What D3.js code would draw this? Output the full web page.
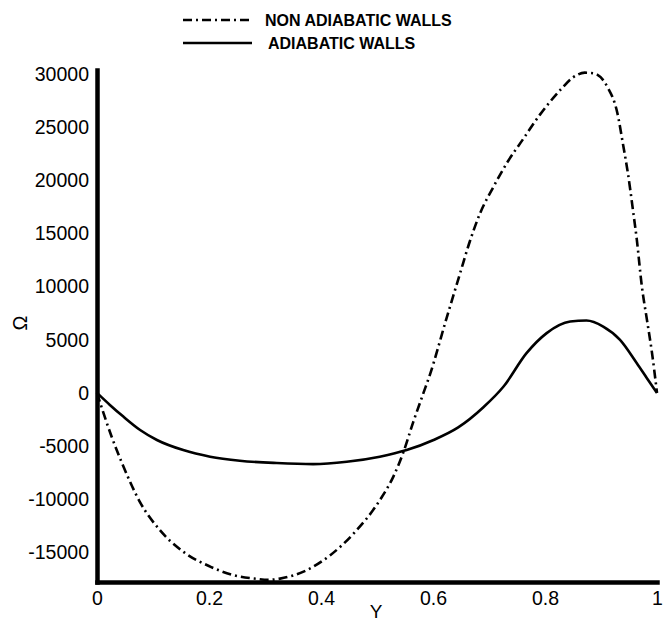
<!DOCTYPE html>
<html>
<head>
<meta charset="utf-8">
<script src="https://cdn.jsdelivr.net/npm/d3@7"></script>
<style>
  body { margin: 0; background: #fff; }
  svg text { font-family: Arial, "Liberation Sans", sans-serif; fill: #000; }
</style>
</head>
<body>
<div id="chart"></div>
<script>
// series
var nonAdY = [0, 0.026, 0.047, 0.077, 0.112, 0.154, 0.202, 0.243, 0.285, 0.305, 0.327, 0.374, 0.416, 0.458,
	0.505, 0.529, 0.547, 0.565, 0.583, 0.595, 0.624, 0.648, 0.666, 0.684, 0.708, 0.732, 0.761, 0.791,
	0.827, 0.85, 0.871, 0.886, 0.911, 0.929, 0.94, 0.948, 0.957, 0.964, 0.973, 0.982, 0.991, 1.0];
var nonAdOmega = [0, -4100, -6900, -10300, -12900, -14950, -16350, -17150, -17500, -17600, -17480, -16700, -15300, -13250,
	-10100, -7900, -5600, -2700, 0, 1800, 7000, 11200, 14300, 16900, 19400, 21650, 23900, 26200,
	28500, 29700, 30150, 30100, 28850, 26400, 23200, 20700, 17250, 14400, 10000, 6900, 3800, 0];

var adY = [0, 0.023, 0.047, 0.077, 0.107, 0.154, 0.202, 0.255, 0.321, 0.386, 0.446, 0.505, 0.553,
	0.601, 0.645, 0.69, 0.726, 0.767, 0.803, 0.845, 0.874, 0.904, 0.934, 0.964, 0.982, 1.0];
var adOmega = [0, -1130, -2230, -3490, -4430, -5380, -6000, -6380, -6600, -6700, -6480, -6000, -5380,
	-4430, -3250, -1350, 600, 3740, 5630, 6720, 6820, 6250, 5000, 2800, 1390, 0];

var xTicks = [0, 0.2, 0.4, 0.6, 0.8, 1];
var xTickLabels = ["0", "0.2", "0.4", "0.6", "0.8", "1"];
var yTicks = [-15000, -10000, -5000, 0, 5000, 10000, 15000, 20000, 25000, 30000];
var legendLabels = ["NON ADIABATIC WALLS", "ADIABATIC WALLS"];

var width = 666, height = 623;
var plotLeft = 97, plotRight = 657, plotTop = 70, plotBottom = 582;
var dashDot = "9,4,2,4";

var svg = d3.select("#chart").append("svg")
	.attr("width", width)
	.attr("height", height);

var x = d3.scaleLinear().domain([0, 1]).range([plotLeft, plotRight]);
var y = d3.scaleLinear().domain([-17800, 30400]).range([plotBottom, plotTop]);

var line = d3.line()
	.x(function(d){ return x(d[0]); })
	.y(function(d){ return y(d[1]); })
	.curve(d3.curveMonotoneX);

var nonAd = nonAdY.map(function(v, i){ return [v, nonAdOmega[i]]; });
var ad = adY.map(function(v, i){ return [v, adOmega[i]]; });

// curves
svg.append("path")
	.attr("d", line(nonAd))
	.attr("fill", "none")
	.attr("stroke", "#000")
	.attr("stroke-width", 2.6)
	.attr("stroke-dasharray", dashDot);

svg.append("path")
	.attr("d", line(ad))
	.attr("fill", "none")
	.attr("stroke", "#000")
	.attr("stroke-width", 2.6);

// axes
var xAxis = d3.axisBottom(x)
	.tickValues(xTicks)
	.tickFormat(function(d, i){ return xTickLabels[i]; })
	.tickSize(0)
	.tickPadding(9);

var yAxis = d3.axisLeft(y)
	.tickValues(yTicks)
	.tickSize(0)
	.tickPadding(8)
	.tickFormat(function(d){ return String(d); });

var gx = svg.append("g")
	.attr("transform", "translate(0," + plotBottom + ")")
	.call(xAxis);
var gy = svg.append("g")
	.attr("transform", "translate(" + plotLeft + ",0)")
	.call(yAxis);

[gx, gy].forEach(function(g){
	g.select(".domain")
		.attr("stroke", "#000")
		.attr("stroke-width", 4.5)
		.attr("stroke-linecap", "square");
	g.selectAll("text")
		.attr("font-size", 19.5)
		.attr("font-family", "Arial, 'Liberation Sans', sans-serif")
		.attr("fill", "#000");
});

// axis titles
svg.append("text")
	.attr("x", (plotLeft + plotRight) / 2 - 1)
	.attr("y", 618)
	.attr("text-anchor", "middle")
	.attr("font-size", 19)
	.text("Y");

svg.append("text")
	.attr("transform", "translate(27,323) rotate(-90)")
	.attr("text-anchor", "middle")
	.attr("font-size", 20)
	.attr("font-family", "'Times New Roman', 'Liberation Serif', serif")
	.text("Ω");

// legend
var legend = svg.append("g");
legendLabels.forEach(function(label, i){
	var ly = 20 + i * 23;
	legend.append("line")
		.attr("x1", 183).attr("x2", 252)
		.attr("y1", ly).attr("y2", ly)
		.attr("stroke", "#000")
		.attr("stroke-width", 2.6)
		.attr("stroke-dasharray", i === 0 ? dashDot : null);
	legend.append("text")
		.attr("x", i === 0 ? 265 : 268)
		.attr("y", ly)
		.attr("dy", "0.36em")
		.attr("font-size", 16)
		.attr("font-weight", "bold")
		.text(label);
});
</script>
</body>
</html>
